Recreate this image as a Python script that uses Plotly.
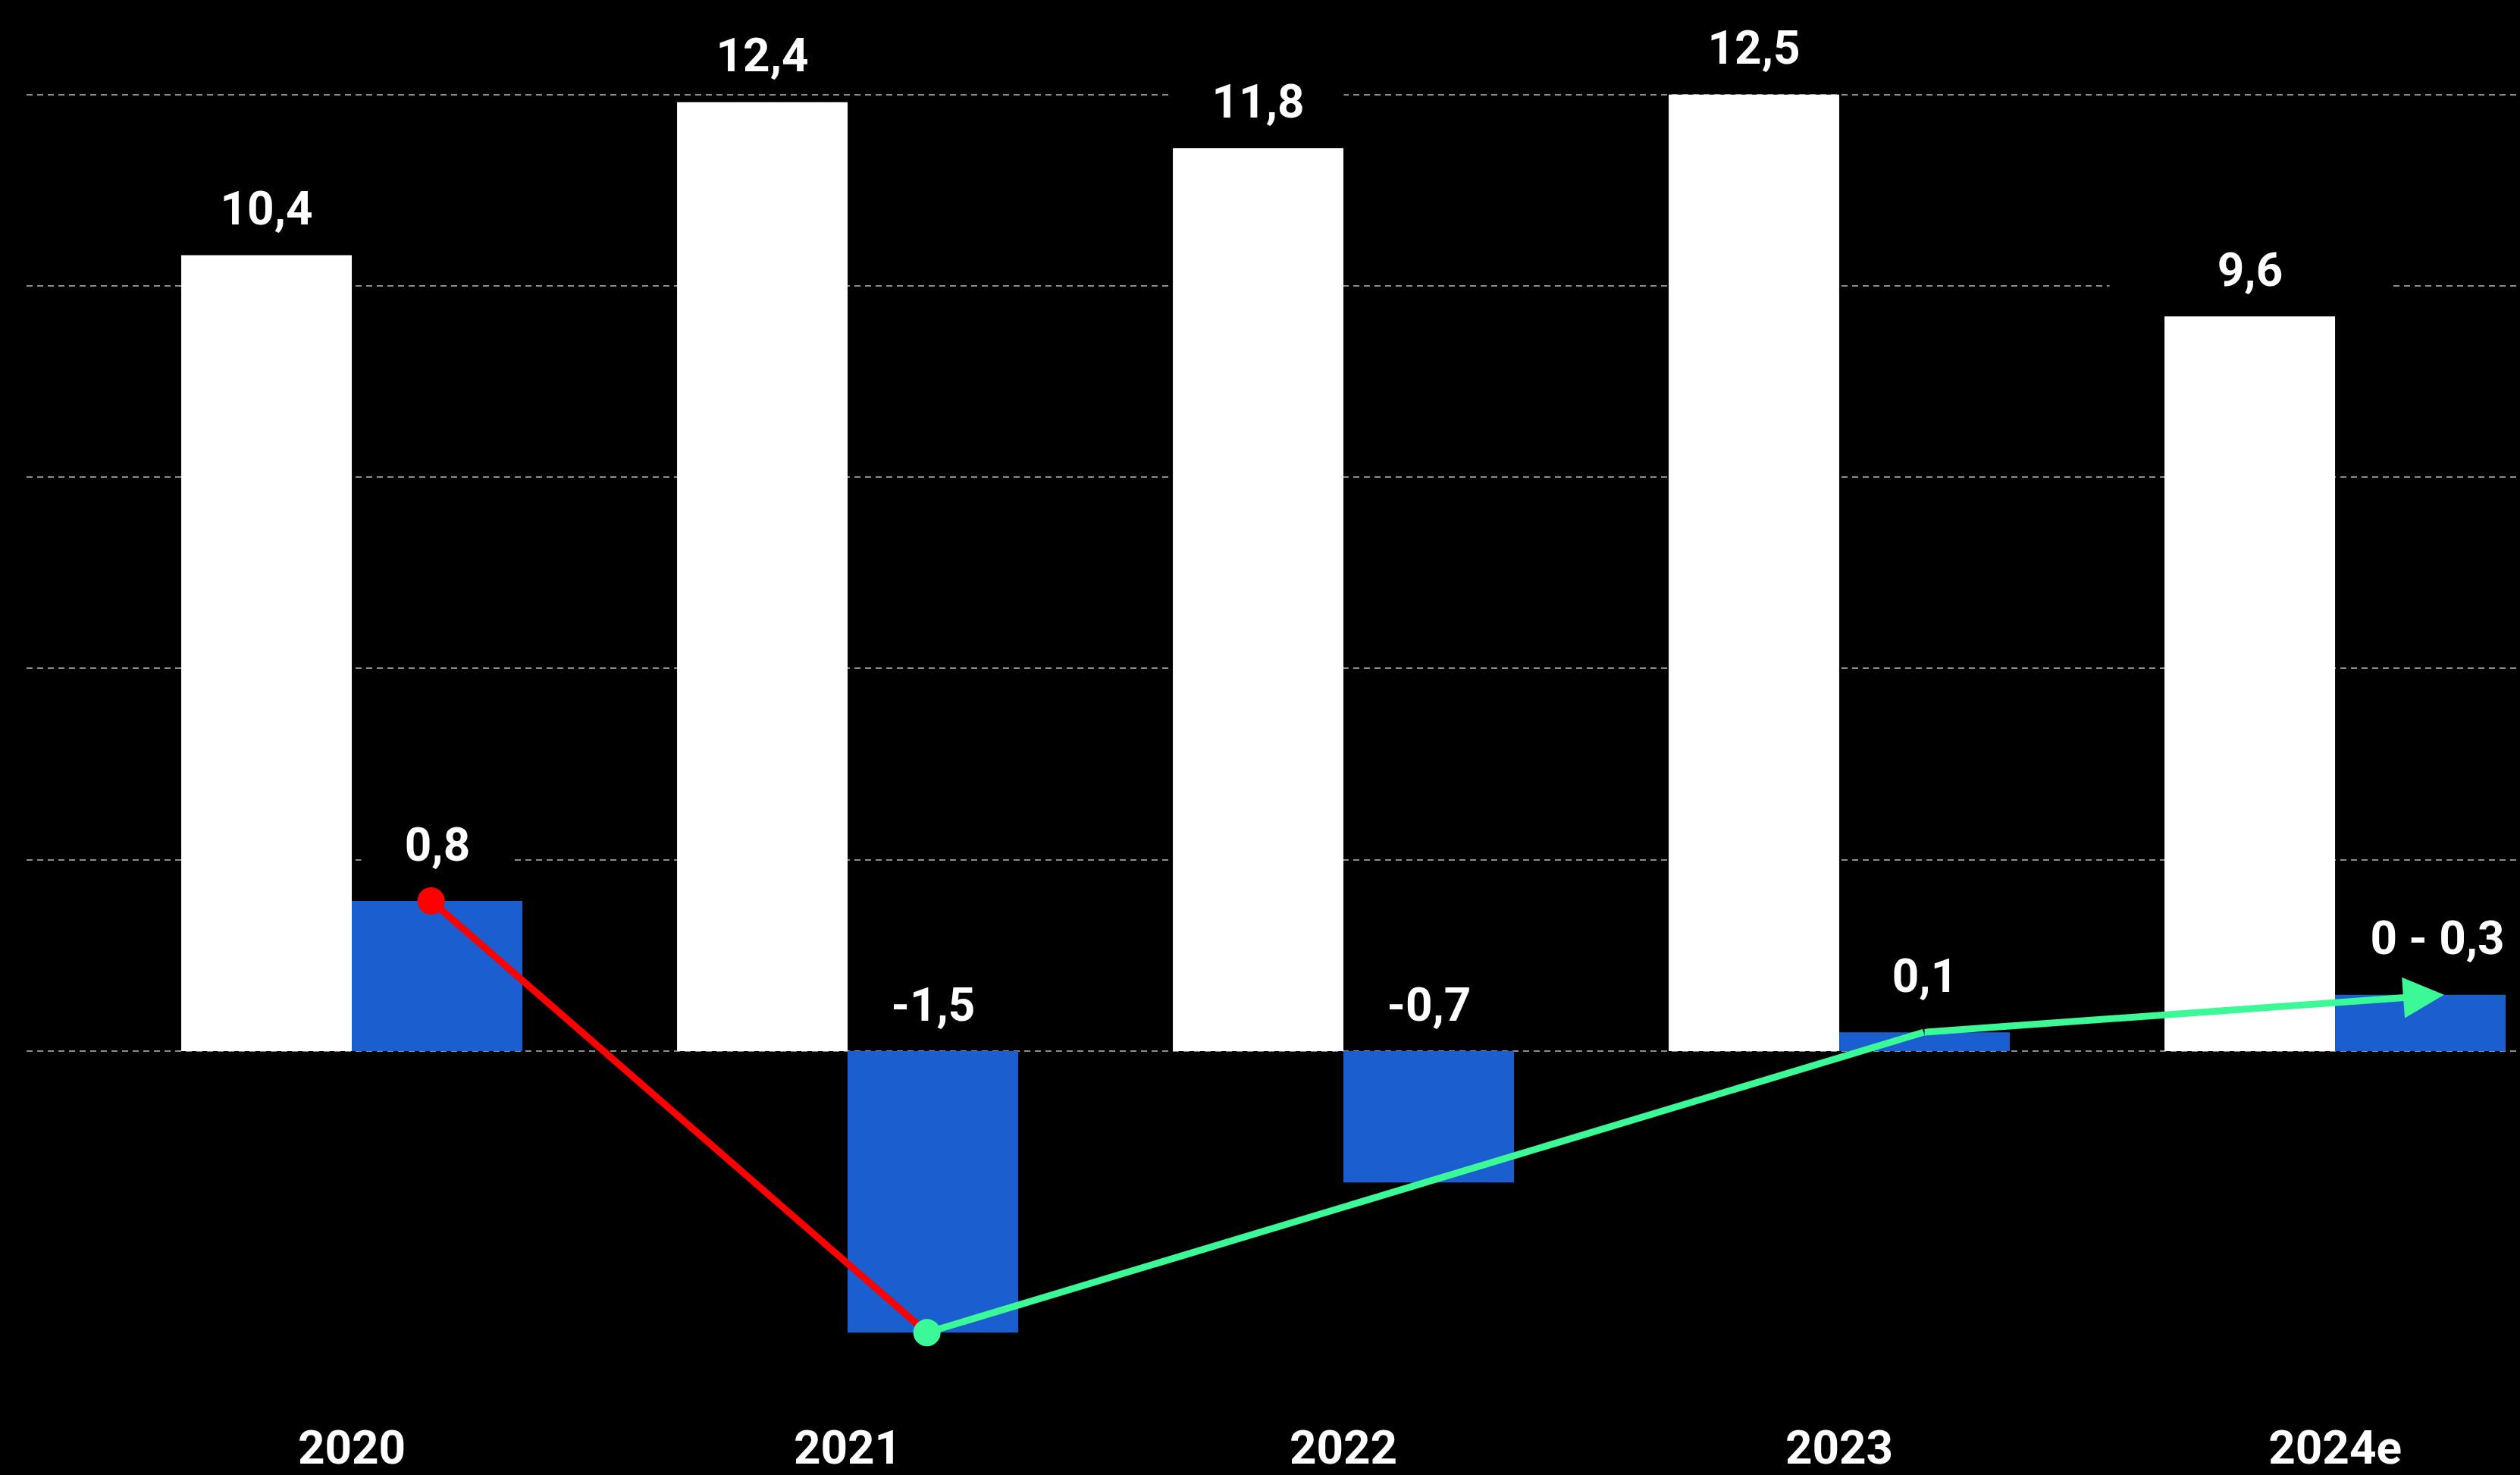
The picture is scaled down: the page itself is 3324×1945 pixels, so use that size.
import plotly.graph_objects as go

# ---- data ----
years = ["2020", "2021", "2022", "2023", "2024e"]
white_values = [10.4, 12.4, 11.8, 12.5, 9.6]
white_labels = ["10,4", "12,4", "11,8", "12,5", "9,6"]
blue_values = [0.8, -1.5, -0.7, 0.1, 0.3]
blue_labels = ["0,8", "-1,5", "-0,7", "0,1", "0 - 0,3"]
grid_values = [0, 2.5, 5, 7.5, 10, 12.5]

# ---- style ----
BG = "#000000"
WHITE = "#FFFFFF"
BLUE = "#1A5ED0"
RED = "#FF0000"
GREEN = "#3BF996"
GRID = "#8C8C8C"
FONT = "Roboto"
BAR_W = 0.344
LINE_SHIFT = 0.16      # position of trend line points inside blue bars
ARROW_SHIFT = 0.22     # arrow tip position inside last blue bar

idx = list(range(len(years)))

fig = go.Figure()

fig.add_trace(go.Bar(
    x=idx, y=white_values, width=BAR_W, offset=-BAR_W,
    marker=dict(color=WHITE, line=dict(width=0)), yaxis="y", showlegend=False,
))
fig.add_trace(go.Bar(
    x=idx, y=blue_values, width=BAR_W, offset=0,
    marker=dict(color=BLUE, line=dict(width=0)), yaxis="y2", showlegend=False,
))

# red segment: 2020 -> 2021
fig.add_trace(go.Scatter(
    x=[idx[0] + LINE_SHIFT, idx[1] + LINE_SHIFT],
    y=[blue_values[0], blue_values[1]],
    mode="lines", yaxis="y2", showlegend=False,
    line=dict(color=RED, width=9),
))
# green segment: 2021 -> 2023 (arrow continues to 2024e)
fig.add_trace(go.Scatter(
    x=[idx[1] + LINE_SHIFT, idx[3] + LINE_SHIFT + 0.01],
    y=[blue_values[1], blue_values[3]],
    mode="lines", yaxis="y2", showlegend=False,
    line=dict(color=GREEN, width=9),
))
# dots
fig.add_trace(go.Scatter(
    x=[idx[0] + LINE_SHIFT], y=[blue_values[0]],
    mode="markers", yaxis="y2", showlegend=False, opacity=1,
    marker=dict(color=RED, size=36, opacity=1, line=dict(width=0)),
))
fig.add_trace(go.Scatter(
    x=[idx[1] + LINE_SHIFT], y=[blue_values[1]],
    mode="markers", yaxis="y2", showlegend=False, opacity=1,
    marker=dict(color=GREEN, size=36, opacity=1, line=dict(width=0)),
))

annotations = []
label_font = dict(family=FONT, size=62, color=WHITE, weight=700)
for i, (v, t) in enumerate(zip(white_values, white_labels)):
    annotations.append(dict(
        x=i - BAR_W / 2, y=v, xref="x", yref="y", text=t, showarrow=False,
        xanchor="center", yanchor="middle", yshift=62, font=label_font,
        bgcolor=BG, width=370 if i == 4 else 225, borderpad=0,
    ))
for i, (v, t) in enumerate(zip(blue_values, blue_labels)):
    annotations.append(dict(
        x=i + BAR_W / 2, y=max(v, 0), xref="x", yref="y2", text=t, showarrow=False,
        xanchor="center", yanchor="middle", yshift=(75 if v > 0 else 62),
        xshift=(22 if i == 4 else 0), font=label_font,
        bgcolor=BG, width=200 if i < 4 else 190, borderpad=0,
    ))
# arrow head of the green trend
annotations.append(dict(
    x=idx[4] + ARROW_SHIFT, y=blue_values[4], xref="x", yref="y2",
    ax=idx[3] + LINE_SHIFT + 0.01, ay=blue_values[3], axref="x", ayref="y2",
    text="", showarrow=True, arrowhead=2, arrowsize=1.2, arrowwidth=9,
    arrowcolor=GREEN,
))

fig.update_layout(
    width=3324, height=1945,
    paper_bgcolor=BG, plot_bgcolor=BG,
    margin=dict(l=35, r=0, t=49, b=96),
    barmode="overlay",
    showlegend=False,
    annotations=annotations,
    xaxis=dict(
        range=[-0.656, 4.373], tickvals=idx, ticktext=years,
        showgrid=False, zeroline=False, showline=False, ticks="",
        ticklabelstandoff=34,
        tickfont=dict(family=FONT, size=62, color=WHITE, weight=700),
    ),
    yaxis=dict(
        range=[-4.43, 13.25], tickvals=grid_values, showticklabels=False,
        showgrid=True, gridcolor=GRID, gridwidth=2, griddash="8px,6px",
        zeroline=False, showline=False, ticks="",
    ),
    yaxis2=dict(
        range=[-1.806, 5.402], overlaying="y", visible=False,
        showgrid=False, zeroline=False,
    ),
)

fig.write_html(
    "out.html",
    config={"displayModeBar": False},
    post_script="document.body.style.margin='0';document.body.style.background='#000';"
                "document.body.style.overflow='hidden';",
)
